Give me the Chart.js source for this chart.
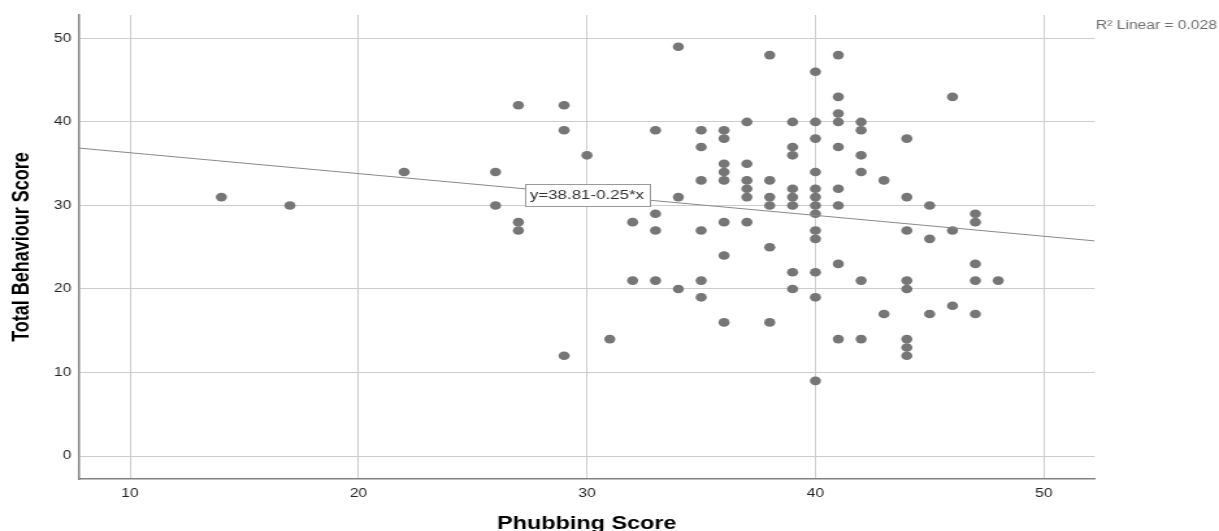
<!DOCTYPE html>
<html>
<head>
<meta charset="utf-8">
<title>Phubbing Score vs Total Behaviour Score</title>
<script src="https://cdn.jsdelivr.net/npm/chart.js@4.4.1/dist/chart.umd.min.js"></script>
<style>
  html, body { margin: 0; padding: 0; background: #fff; overflow: hidden; }
</style>
</head>
<body>
<!-- drawn narrow, then stretched sideways like the source image -->
<canvas id="chart" width="938" height="540" style="width:1219px;height:540px"></canvas>
<script>
// one line per Phubbing Score value
const phubbing = [
  14,
  17,
  22,
  26, 26,
  27, 27, 27,
  29, 29, 29,
  30,
  31,
  32, 32,
  33, 33, 33, 33,
  34, 34, 34,
  35, 35, 35, 35, 35, 35,
  36, 36, 36, 36, 36, 36, 36, 36,
  37, 37, 37, 37, 37, 37,
  38, 38, 38, 38, 38, 38,
  39, 39, 39, 39, 39, 39, 39, 39,
  40, 40, 40, 40, 40, 40, 40, 40, 40, 40, 40, 40, 40,
  41, 41, 41, 41, 41, 41, 41, 41, 41,
  42, 42, 42, 42, 42, 42,
  43, 43,
  44, 44, 44, 44, 44, 44, 44, 44,
  45, 45, 45,
  46, 46, 46,
  47, 47, 47, 47, 47,
  48
];
const behaviour = [
  31,
  30,
  34,
  34, 30,
  42, 28, 27,
  42, 39, 12,
  36,
  14,
  28, 21,
  39, 29, 27, 21,
  49, 31, 20,
  39, 37, 33, 27, 21, 19,
  39, 38, 35, 34, 33, 28, 24, 16,
  40, 35, 33, 32, 31, 28,
  48, 33, 31, 30, 25, 16,
  40, 37, 36, 32, 31, 30, 22, 20,
  46, 40, 38, 34, 32, 31, 30, 29, 27, 26, 22, 19, 9,
  48, 43, 41, 40, 37, 32, 30, 23, 14,
  40, 39, 36, 34, 21, 14,
  33, 17,
  38, 31, 27, 21, 20, 14, 13, 12,
  30, 26, 17,
  43, 27, 18,
  29, 28, 23, 21, 17,
  21
];
const xTicks = [10, 20, 30, 40, 50];
const yTicks = [0, 10, 20, 30, 40, 50];
const xRange = [7.77, 52.22];
const yRange = [-2.75, 52.8];
const fitIntercept = 38.81;
const fitSlope = -0.25;
const fitLabelAt = 30;
const rSquared = 0.028;

const family = '"Liberation Sans", Arial, sans-serif';
Chart.defaults.font.family = family;

const points = phubbing.map((v, i) => ({ x: v, y: behaviour[i] }));
const fitLine = xRange.map(v => ({ x: v, y: fitIntercept + fitSlope * v }));

// equation box on the line and the R² note top right
const notes = {
  id: 'notes',
  afterDatasetsDraw(chart) {
    const { ctx, chartArea, scales: { x, y } } = chart;
    const label = 'y=' + fitIntercept.toFixed(2) + (fitSlope < 0 ? '-' : '+') + Math.abs(fitSlope).toFixed(2) + '*x';
    const px = x.getPixelForValue(fitLabelAt);
    const py = y.getPixelForValue(fitIntercept + fitSlope * fitLabelAt);
    ctx.save();
    ctx.font = '13px ' + family;
    const w = Math.round(ctx.measureText(label).width + 8);
    const h = 22;
    const bx = Math.round(px - w / 2) + 0.5;
    const by = Math.round(py - h / 2) + 0.5;
    ctx.fillStyle = '#fff';
    ctx.fillRect(bx, by, w, h);
    ctx.strokeStyle = '#9a9a9a';
    ctx.lineWidth = 1;
    ctx.strokeRect(bx, by, w, h);
    ctx.fillStyle = '#333';
    ctx.textAlign = 'center';
    ctx.textBaseline = 'middle';
    ctx.fillText(label, px, py + 1);

    ctx.font = '12px ' + family;
    ctx.fillStyle = '#6e6e6e';
    ctx.textAlign = 'left';
    ctx.textBaseline = 'alphabetic';
    ctx.fillText('R\u00B2 Linear = ' + rSquared.toFixed(3), chartArea.right + 1, 29);
    ctx.restore();
  }
};

new Chart(document.getElementById('chart'), {
  type: 'scatter',
  data: {
    datasets: [
      {
        label: 'Total Behaviour Score',
        data: points,
        backgroundColor: '#767676',
        borderWidth: 0,
        pointRadius: 4.3,
        pointHoverRadius: 4.3,
        order: 1
      },
      {
        label: 'Fit',
        data: fitLine,
        showLine: true,
        borderColor: '#8a8a8a',
        borderWidth: 1,
        pointRadius: 0,
        order: 0
      }
    ]
  },
  options: {
    responsive: false,
    animation: false,
    layout: { padding: { top: 15, right: 95.7, bottom: 0, left: 0 } },
    plugins: {
      legend: { display: false },
      tooltip: { enabled: false }
    },
    scales: {
      x: {
        type: 'linear',
        min: xRange[0],
        max: xRange[1],
        afterBuildTicks: s => { s.ticks = xTicks.map(v => ({ value: v })); },
        afterFit: s => { s.height = 61; },
        grid: { color: '#cdcdcd', lineWidth: 1, drawTicks: false },
        border: { color: '#828282', width: 1.5 },
        ticks: { color: '#262626', font: { size: 12 }, padding: 7 },
        title: {
          display: true,
          text: 'Phubbing Score',
          color: '#000',
          font: { size: 18, weight: 'bold' },
          padding: { top: 0, bottom: 5 }
        }
      },
      y: {
        type: 'linear',
        min: yRange[0],
        max: yRange[1],
        afterBuildTicks: s => { s.ticks = yTicks.map(v => ({ value: v })); },
        afterFit: s => { s.width = 60.8; },
        grid: { color: '#cdcdcd', lineWidth: 1, drawTicks: false },
        border: { color: '#828282', width: 1.5 },
        ticks: { color: '#262626', font: { size: 12 }, padding: 6 },
        title: {
          display: true,
          text: 'Total Behaviour Score',
          color: '#000',
          font: { size: 18, weight: 'bold' },
          padding: { top: 6.5, bottom: 0 }
        }
      }
    }
  },
  plugins: [notes]
});
</script>
</body>
</html>
